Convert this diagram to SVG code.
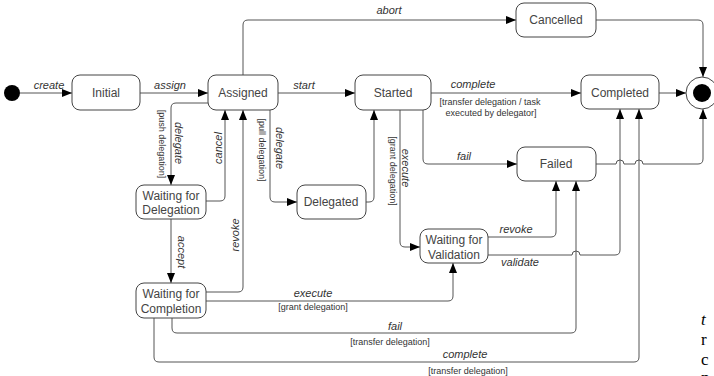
<svg xmlns="http://www.w3.org/2000/svg" width="714" height="376" viewBox="0 0 714 376">
<defs>
<marker id="arr" markerWidth="10" markerHeight="8" refX="10" refY="4" orient="auto" markerUnits="userSpaceOnUse">
<path d="M0,0 L10,4 L0,8 Z" fill="#000"/>
</marker>
<style>
.node rect{fill:#fff;stroke:#444;stroke-width:1}
.node text{font-family:"Liberation Sans",Arial,sans-serif;font-size:12px;fill:#444;text-anchor:middle}
.conn path{fill:none;stroke:#555;stroke-width:1}
.ev{font-family:"Liberation Sans",Arial,sans-serif;font-size:11px;font-style:italic;fill:#333;text-anchor:middle}
.gd{font-family:"Liberation Sans",Arial,sans-serif;font-size:9px;fill:#333;text-anchor:middle}
.pg{font-family:"Liberation Serif","Times New Roman",serif;font-size:17px;fill:#000}
</style>
</defs>
<rect width="714" height="376" fill="#fff"/>

<g class="conn">
<path d="M20,93 L72,93" marker-end="url(#arr)"/>
<path d="M140,93 L208,93" marker-end="url(#arr)"/>
<path d="M278,93 L355,93" marker-end="url(#arr)"/>
<path d="M431,93 L581,93" marker-end="url(#arr)"/>
<path d="M659,93 L686,93" marker-end="url(#arr)"/>
<path d="M243,75 L243,25 Q243,20 248,20 L516,20" marker-end="url(#arr)"/>
<path d="M596,20 L698,20 Q703,20 703,25 L703,77" marker-end="url(#arr)"/>
<path d="M596,164 L616,164 A4,4 0 0 1 624,164 L635,164 A4,4 0 0 1 643,164 L698,164 Q703,164 703,159 L703,109" marker-end="url(#arr)"/>
<path d="M208,103 L176,103 Q171,103 171,108 L171,185" marker-end="url(#arr)"/>
<path d="M206,201 L220,201 Q225,201 225,196 L225,110" marker-end="url(#arr)"/>
<path d="M206,292 L238,292 Q243,292 243,287 L243,110" marker-end="url(#arr)"/>
<path d="M270,110 L270,197 Q270,202 275,202 L297,202" marker-end="url(#arr)"/>
<path d="M366,202 L369,202 Q374,202 374,197 L374,110" marker-end="url(#arr)"/>
<path d="M171,219 L171,283" marker-end="url(#arr)"/>
<path d="M400,110 L400,242 Q400,247 405,247 L420,247" marker-end="url(#arr)"/>
<path d="M423,110 L423,159 Q423,164 428,164 L517,164" marker-end="url(#arr)"/>
<path d="M488,237 L551,237 Q556,237 556,232 L556,181" marker-end="url(#arr)"/>
<path d="M488,255 L572,255 A4,4 0 0 1 580,255 L615,255 Q620,255 620,250 L620,109" marker-end="url(#arr)"/>
<path d="M206,301 L448,301 Q453,301 453,296 L453,263" marker-end="url(#arr)"/>
<path d="M172,318 L172,328 Q172,333 177,333 L571,333 Q576,333 576,328 L576,181" marker-end="url(#arr)"/>
<path d="M154,318 L154,357 Q154,362 159,362 L634,362 Q639,362 639,357 L639,109" marker-end="url(#arr)"/>
</g>

<g id="start"><circle cx="12" cy="93" r="8" fill="#000"/></g>
<g id="final"><circle cx="702" cy="93" r="16" fill="#fff" stroke="#444"/><circle cx="702" cy="93" r="9" fill="#000"/></g>

<g id="initial" class="node"><rect x="72" y="75" width="68" height="35" rx="8"/><text x="106" y="97">Initial</text></g>
<g id="assigned" class="node"><rect x="208" y="75" width="70" height="35" rx="8"/><text x="243" y="97">Assigned</text></g>
<g id="started" class="node"><rect x="355" y="75" width="76" height="35" rx="8"/><text x="393" y="97">Started</text></g>
<g id="completed" class="node"><rect x="581" y="75" width="78" height="34" rx="8"/><text x="620" y="97">Completed</text></g>
<g id="cancelled" class="node"><rect x="516" y="3" width="80" height="34" rx="8"/><text x="556" y="24">Cancelled</text></g>
<g id="failed" class="node"><rect x="517" y="147" width="79" height="34" rx="8"/><text x="556" y="168">Failed</text></g>
<g id="delegated" class="node"><rect x="297" y="185" width="69" height="34" rx="8"/><text x="331" y="206">Delegated</text></g>
<g id="waitDelegation" class="node"><rect x="136" y="185" width="70" height="34" rx="8"/><text x="171" y="200">Waiting for</text><text x="171" y="214">Delegation</text></g>
<g id="waitCompletion" class="node"><rect x="136" y="283" width="70" height="35" rx="8"/><text x="171" y="298">Waiting for</text><text x="171" y="313">Completion</text></g>
<g id="waitValidation" class="node"><rect x="420" y="229" width="68" height="34" rx="8"/><text x="454" y="244">Waiting for</text><text x="454" y="259">Validation</text></g>

<g id="labels">
<text class="ev" x="49" y="89">create</text>
<text class="ev" x="170" y="89">assign</text>
<text class="ev" x="304" y="89">start</text>
<text class="ev" x="389" y="14">abort</text>
<text class="ev" x="473" y="88">complete</text>
<text class="gd" x="490" y="105">[transfer delegation / task</text>
<text class="gd" x="491" y="116">executed by delegator]</text>
<text class="ev" x="464" y="160">fail</text>
<text class="gd" transform="translate(159,144) rotate(90)">[push delegation]</text>
<text class="ev" transform="translate(175,143) rotate(90)">delegate</text>
<text class="ev" transform="translate(222,148) rotate(-90)">cancel</text>
<text class="gd" transform="translate(259,150) rotate(90)">[pull delegation]</text>
<text class="ev" transform="translate(276,148) rotate(90)">delegate</text>
<text class="ev" transform="translate(239,235) rotate(-90)">revoke</text>
<text class="ev" transform="translate(178,252) rotate(90)">accept</text>
<text class="gd" transform="translate(390,171) rotate(90)">[grant delegation]</text>
<text class="ev" transform="translate(402,168) rotate(90)">execute</text>
<text class="ev" x="516" y="233">revoke</text>
<text class="ev" x="520" y="266">validate</text>
<text class="ev" x="313" y="297">execute</text>
<text class="gd" x="313" y="310">[grant delegation]</text>
<text class="ev" x="395" y="330">fail</text>
<text class="gd" x="390" y="345">[transfer delegation]</text>
<text class="ev" x="465" y="358">complete</text>
<text class="gd" x="468" y="374">[transfer delegation]</text>
</g>

<g id="page-edge">
<text class="pg" x="701" y="325" font-style="italic">t</text>
<text class="pg" x="701" y="345">r</text>
<text class="pg" x="701" y="365">c</text>
<text class="pg" x="701" y="383">n</text>
</g>
</svg>
